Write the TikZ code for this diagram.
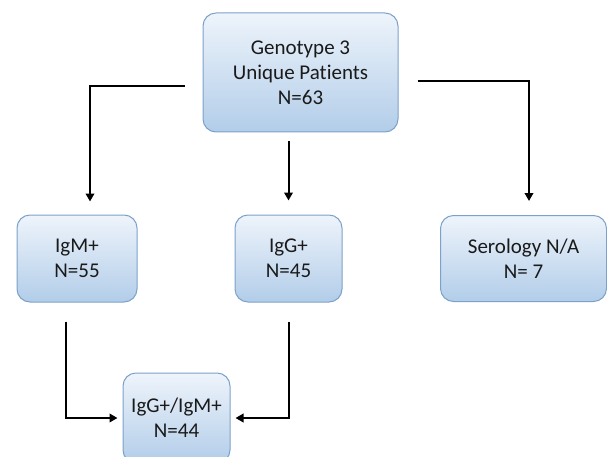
\documentclass[tikz,border=0pt]{standalone}
\usepackage{fontspec}
\setmainfont[Ligatures=NoCommon]{Carlito}
\usetikzlibrary{arrows.meta}
\definecolor{boxtop}{HTML}{EEF4FB}
\definecolor{boxbot}{HTML}{B2CDE9}
\definecolor{boxline}{HTML}{7CA1CA}
\definecolor{txt}{HTML}{1A1A1A}
\tikzset{
  box/.style={draw=boxline, line width=1pt, rounded corners=13pt,
    top color=boxtop, bottom color=boxbot, align=center, text=txt,
    font=\fontsize{21pt}{25pt}\selectfont, inner sep=0pt},
  conn/.style={draw=black, line width=2pt,
    -{Triangle[length=8pt,width=8.5pt]}},
}
\begin{document}
\begin{tikzpicture}[x=1pt,y=-1pt]
\useasboundingbox (0,0) rectangle (607,457);
\clip (0,0) rectangle (607,457);
\node[box, minimum width=195pt, minimum height=119pt] (top) at (300.5,72.5) {Genotype 3\\Unique Patients\\N=63};
\node[box, minimum width=120pt, minimum height=87pt] (igm) at (77,258.5) {IgM+\\N=55};
\node[box, minimum width=107pt, minimum height=87pt] (igg) at (288.5,258.5) {IgG+\\N=45};
\node[box, minimum width=166pt, minimum height=86pt] (sero) at (523.5,258.5) {Serology N/A\\N= 7};
\node[box, minimum width=107pt, minimum height=90pt] (both) at (176.5,418) {IgG+/IgM+\\N=44};
\draw[conn] ([shift={(-18pt,-13.5pt)}]top.west) -| ([shift={(13pt,13pt)}]igm.north);
\draw[conn] ([shift={(-12pt,-9pt)}]top.south) -- ([yshift=14pt]igg.north);
\draw[conn] ([shift={(19pt,-8.5pt)}]top.east) -| ([shift={(5.5pt,14pt)}]sero.north);
\draw[conn] ([shift={(-11pt,-19pt)}]igm.south) |- ([xshift=-5pt]both.west);
\draw[conn] ([shift={(0pt,-19pt)}]igg.south) |- ([xshift=5pt]both.east);
\end{tikzpicture}
\end{document}
